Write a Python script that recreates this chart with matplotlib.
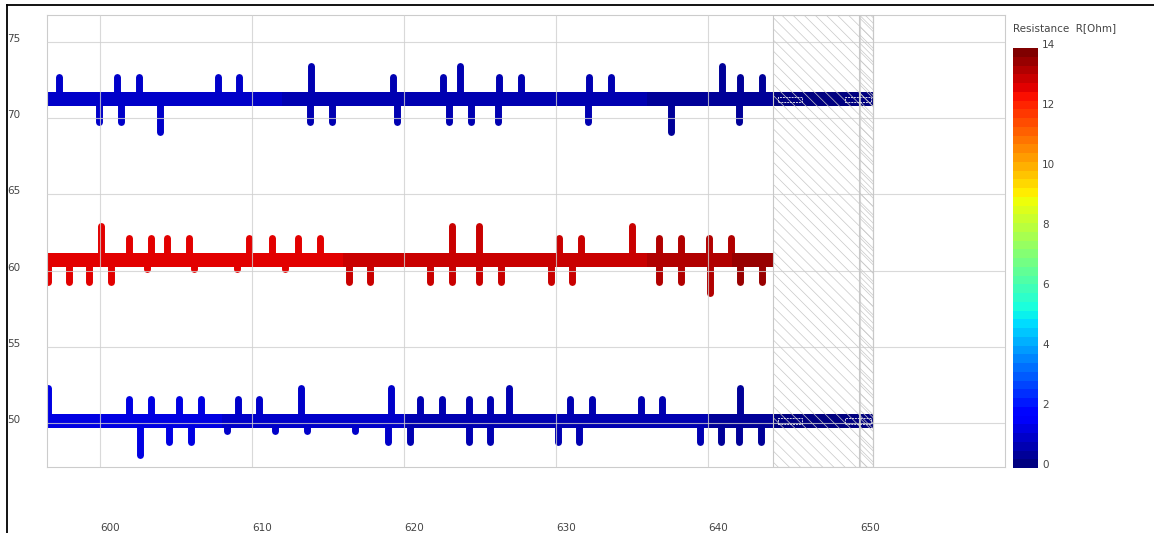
import numpy as np
import matplotlib
matplotlib.use("Agg")
import matplotlib.pyplot as plt
from matplotlib.lines import Line2D
from matplotlib.patches import Rectangle
from matplotlib.cm import ScalarMappable
from matplotlib.colors import Normalize

plt.rcParams['font.family'] = ['DejaVu Sans']
plt.rcParams['hatch.linewidth'] = 0.5

# ---- data ----
x_ticks = [600, 610, 620, 630, 640, 650]
y_ticks = [50, 55, 60, 65, 70, 75]
cbar_ticks = [0, 2, 4, 6, 8, 10, 12, 14]

# band: center, height, segment edges and resistance value per segment
top_center, top_h = 71.25, 0.96
top_edges = [596.0, 600, 604, 608, 612, 616, 620, 624, 628, 632, 636, 640, 644.3, 650.85]
top_vals = [1.05, 1.0, 1.0, 0.95, 0.85, 0.8, 0.75, 0.7, 0.65, 0.6, 0.55, 0.5, 0.1]

mid_center, mid_h = 60.69, 0.97
mid_edges = [596.0, 600, 604, 608, 612, 616, 620, 624, 628, 632, 636, 640, 641.6, 644.3]
mid_vals = [12.7, 12.7, 12.7, 12.7, 12.75, 12.9, 12.95, 13.0, 13.0, 13.05, 13.2, 13.25, 13.55]

bot_center, bot_h = 50.13, 0.94
bot_edges = [596.0, 600, 604, 608, 612, 616, 620, 624, 628, 632, 636, 640, 644.3, 650.85]
bot_vals = [1.2, 1.25, 1.2, 1.05, 1.0, 0.95, 0.85, 0.8, 0.75, 0.65, 0.6, 0.5, 0.1]

# spikes: x position and tip height
top_up_x = [597.32, 601.14, 602.57, 607.74, 609.16, 613.86, 619.30, 622.59, 623.68,
            626.25, 627.68, 632.15, 633.64, 640.94, 642.11, 643.53]
top_up_y = [72.9, 72.9, 72.9, 72.9, 72.9, 73.67, 72.9, 72.9, 73.67,
            72.9, 72.9, 72.9, 72.9, 73.67, 72.9, 72.9]
top_dn_x = [599.95, 601.38, 603.97, 613.82, 615.24, 619.54, 622.96, 624.39, 626.20,
            632.13, 637.55, 642.02]
top_dn_y = [69.55, 69.55, 68.85, 69.55, 69.55, 69.55, 69.55, 69.55, 69.55,
            69.55, 68.85, 69.55]

mid_up_x = [600.05, 601.93, 603.36, 604.43, 605.88, 609.82, 611.30, 613.05, 614.49,
            623.14, 624.95, 630.22, 631.63, 635.02, 636.78, 638.22, 640.09, 641.51]
mid_up_y = [63.13, 62.36, 62.36, 62.36, 62.36, 62.36, 62.36, 62.36, 62.36,
            63.13, 63.13, 62.36, 62.36, 63.13, 62.36, 62.36, 62.36, 62.36]
mid_dn_x = [596.6, 597.96, 599.28, 600.70, 603.07, 606.20, 609.03, 612.17, 616.36,
            617.76, 621.71, 623.14, 624.93, 626.36, 629.65, 631.07, 636.78, 638.22,
            640.13, 642.11, 643.53]
mid_dn_y = [59.04, 59.04, 59.04, 59.04, 59.85, 59.85, 59.85, 59.85, 59.04,
            59.04, 59.04, 59.04, 59.04, 59.04, 59.04, 59.04, 59.04, 59.04,
            58.3, 59.04, 59.04]

bot_up_x = [596.59, 601.92, 603.35, 605.21, 606.64, 609.06, 610.46, 613.19, 619.15,
            621.07, 622.47, 624.27, 625.66, 626.91, 630.94, 632.34, 635.59, 636.99, 642.11]
bot_up_y = [52.54, 51.8, 51.8, 51.8, 51.8, 51.8, 51.8, 52.54, 52.54,
            51.8, 51.8, 51.8, 51.8, 52.54, 51.8, 51.8, 51.8, 51.8, 52.54]
bot_dn_x = [602.61, 604.56, 605.96, 608.35, 611.48, 613.62, 616.76, 618.93, 620.39,
            624.27, 625.66, 630.16, 631.50, 639.47, 640.87, 642.05, 643.51]
bot_dn_y = [47.7, 48.49, 48.49, 49.27, 49.27, 49.27, 49.27, 48.49, 48.49,
            48.49, 48.49, 48.49, 48.49, 48.49, 48.49, 48.49, 48.49]

# hatched (no data) zone and the small chain marks inside it
hatch_x0, hatch_x1 = 644.3, 650.85
hatch2_x0 = 649.95
chain_x0 = [644.6, 649.0]
chain_x1 = [646.2, 650.7]

# ---- drawing ----
cmap = matplotlib.colormaps['jet'].resampled(48)
norm = Normalize(0, 14)

fig = plt.figure(figsize=(11.54, 5.33), dpi=100)
ax = fig.add_axes([47 / 1154, 1 - 467 / 533, (1005 - 47) / 1154, (467 - 15) / 533])

spike_lw = 5.0
cap = 0.23  # round cap overhang in data units


def seg_value(edges, vals, x):
    i = np.clip(np.searchsorted(edges, x) - 1, 0, len(vals) - 1)
    return np.asarray(vals)[i]


def draw_row(center, h, edges, vals, up_x, up_y, dn_x, dn_y):
    edges = np.asarray(edges)
    cols = [cmap(norm(v)) for v in vals]
    ax.bar(edges[:-1], h, width=np.diff(edges), bottom=center - h / 2,
           align='edge', color=cols, linewidth=0, zorder=2)
    for xs, ys, sgn in [(up_x, up_y, 1), (dn_x, dn_y, -1)]:
        xs = np.asarray(xs)
        ys = np.asarray(ys) - sgn * cap
        c = [cmap(norm(v)) for v in seg_value(edges, vals, xs)]
        lc = ax.vlines(xs, center, ys, colors=c, lw=spike_lw, zorder=1.8)
        lc.set_capstyle('round')


draw_row(top_center, top_h, top_edges, top_vals, top_up_x, top_up_y, top_dn_x, top_dn_y)
draw_row(mid_center, mid_h, mid_edges, mid_vals, mid_up_x, mid_up_y, mid_dn_x, mid_dn_y)
draw_row(bot_center, bot_h, bot_edges, bot_vals, bot_up_x, bot_up_y, bot_dn_x, bot_dn_y)

for c in [top_center, bot_center]:
    for a, b in zip(chain_x0, chain_x1):
        ax.add_patch(Rectangle((a, c - 0.17), b - a, 0.34, facecolor='none',
                               edgecolor='#d8d8e8', lw=0.7, ls=(0, (2, 1)), zorder=3.5))

ax.axvspan(hatch_x0, hatch_x1, facecolor='none', edgecolor='#c8c8c8',
           hatch='\\\\\\', lw=0.8, zorder=3)
ax.axvspan(hatch2_x0, hatch_x1, facecolor='none', edgecolor='#c8c8c8',
           hatch='\\\\\\\\', lw=0.8, zorder=3)

ax.set_xlim(596.51, 659.54)
ax.set_ylim(47.11, 76.77)
ax.set_xticks(x_ticks)
ax.set_yticks(y_ticks)
ax.grid(True, color='#d0d0d0', lw=0.8, alpha=0.8)
ax.set_axisbelow(False)
for s in ax.spines.values():
    s.set_color('#cccccc')
    s.set_linewidth(0.8)
ax.tick_params(axis='both', length=0, labelsize=7.5, labelcolor='#444444')
ax.tick_params(axis='y', pad=19)
ax.tick_params(axis='x', pad=40)
for lab in ax.get_xticklabels():
    lab.set_ha('left')
for lab in ax.get_yticklabels():
    lab.set_va('baseline')

# colorbar
cax = fig.add_axes([1013 / 1154, 1 - 468 / 533, 25 / 1154, 420 / 533])
cb = fig.colorbar(ScalarMappable(norm=norm, cmap=cmap), cax=cax, ticks=cbar_ticks)
cb.outline.set_visible(False)
cax.tick_params(length=0, labelsize=7.5, labelcolor='#444444', pad=3)
for lab in cax.get_yticklabels():
    lab.set_va('baseline')
fig.text(1013 / 1154, 1 - 28 / 533, 'Resistance  R[Ohm]', fontsize=7.5,
         color='#444444', ha='left', va='center')

# outer frame lines (left and top)
fig.add_artist(Line2D([7 / 1154, 7 / 1154], [0, 1 - 5 / 533], transform=fig.transFigure,
                      color='black', lw=1.3))
fig.add_artist(Line2D([7 / 1154, 1], [1 - 5 / 533, 1 - 5 / 533], transform=fig.transFigure,
                      color='black', lw=1.3))

fig.savefig('out.png', dpi=100)
